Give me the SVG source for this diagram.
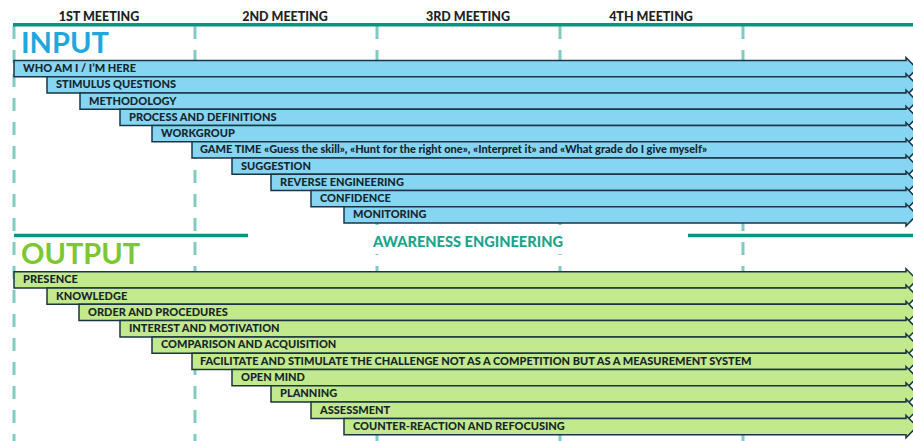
<svg xmlns="http://www.w3.org/2000/svg" width="913" height="441" viewBox="0 0 913 441">
  <style>
    .meet { font-family: Lato, "Liberation Sans", sans-serif; font-weight: 900; font-size: 12.5px; fill: #222; text-anchor: middle; }
    .title { font-family: Lato, "Liberation Sans", sans-serif; font-weight: 700; font-size: 29px; }
    .lbl { font-family: Lato, "Liberation Sans", sans-serif; font-weight: 900; font-size: 11px; fill: #17262e; }
    .in path { fill: #86d5f2; stroke: #1b3544; stroke-width: 1.5; stroke-linejoin: miter; }
    .out path { fill: #c2e98b; stroke: #1b3544; stroke-width: 1.5; stroke-linejoin: miter; }
    .dash { stroke: #80ccc4; stroke-width: 3; stroke-dasharray: 13 11; fill: none; }
    .rule { stroke: #00967f; stroke-width: 3.5; fill: none; }
  </style>

  <!-- meeting grid -->
  <g id="grid">
    <line class="dash" x1="14" y1="26" x2="14" y2="441"/>
    <line class="dash" x1="195" y1="26" x2="195" y2="441"/>
    <line class="dash" x1="377" y1="26" x2="377" y2="441"/>
    <line class="dash" x1="560" y1="26" x2="560" y2="441"/>
    <line class="dash" x1="743" y1="26" x2="743" y2="441"/>
    <line class="rule" x1="13" y1="24.7" x2="913" y2="24.7"/>
  </g>

  <g id="meetings">
    <text class="meet" x="99" y="21">1ST MEETING</text>
    <text class="meet" x="285" y="21">2ND MEETING</text>
    <text class="meet" x="468" y="21">3RD MEETING</text>
    <text class="meet" x="651" y="21">4TH MEETING</text>
  </g>

  <!-- section divider -->
  <g id="divider">
    <rect x="248" y="225" width="440" height="29" fill="#fff"/>
    <line class="rule" x1="14" y1="235.5" x2="248" y2="235.5"/>
    <line class="rule" x1="688" y1="235.5" x2="913" y2="235.5"/>
    <text x="468" y="246.5" text-anchor="middle" font-family="Lato, 'Liberation Sans', sans-serif" font-weight="900" font-size="14.6px" fill="#1aa58c">AWARENESS ENGINEERING</text>
  </g>

  <text id="input-title" class="title" x="21" y="53" fill="#1fa8de">INPUT</text>
  <text id="output-title" class="title" x="21" y="264" fill="#7cc832">OUTPUT</text>

  <!-- input arrows: each drawn over the previous one -->
  <g id="input" class="in">
    <g id="in1"><path d="M14,60.5 H906 V57.5 L917,68.6 L906,79.8 V76.8 H14 Z"/><text class="lbl" x="23" y="72">WHO AM I / I’M HERE</text></g>
    <g id="in2"><path d="M47,76.8 H906 V73.8 L917,84.9 L906,96 V93 H47 Z"/><text class="lbl" x="56" y="88.2">STIMULUS QUESTIONS</text></g>
    <g id="in3"><path d="M80,93 H906 V90 L917,101.1 L906,112.3 V109.3 H80 Z"/><text class="lbl" x="89" y="104.5">METHODOLOGY</text></g>
    <g id="in4"><path d="M120,109.3 H906 V106.3 L917,117.4 L906,128.5 V125.5 H120 Z"/><text class="lbl" x="129" y="120.7">PROCESS AND DEFINITIONS</text></g>
    <g id="in5"><path d="M152,125.5 H906 V122.5 L917,133.6 L906,144.8 V141.8 H152 Z"/><text class="lbl" x="161" y="137">WORKGROUP</text></g>
    <g id="in6"><path d="M192,141.8 H906 V138.8 L917,149.9 L906,161 V158 H192 Z"/><text class="lbl" x="200" y="153.2">GAME TIME «Guess the skill», «Hunt for the right one», «Interpret it» and «What grade do I give myself»</text></g>
    <g id="in7"><path d="M232,158 H906 V155 L917,166.1 L906,177.3 V174.3 H232 Z"/><text class="lbl" x="241" y="169.5">SUGGESTION</text></g>
    <g id="in8"><path d="M271,174.3 H906 V171.3 L917,182.4 L906,193.5 V190.5 H271 Z"/><text class="lbl" x="280" y="185.7">REVERSE ENGINEERING</text></g>
    <g id="in9"><path d="M311,190.5 H906 V187.5 L917,198.6 L906,209.8 V206.8 H311 Z"/><text class="lbl" x="320" y="202">CONFIDENCE</text></g>
    <g id="in10"><path d="M344,206.8 H906 V203.8 L917,214.9 L906,226 V223 H344 Z"/><text class="lbl" x="353" y="218.2">MONITORING</text></g>
  </g>

  <!-- output arrows -->
  <g id="output" class="out">
    <g id="out1"><path d="M14,271.7 H906 V268.7 L917,279.8 L906,291 V288 H14 Z"/><text class="lbl" x="23" y="283.2">PRESENCE</text></g>
    <g id="out2"><path d="M47,288 H906 V285 L917,296.1 L906,307.3 V304.3 H47 Z"/><text class="lbl" x="56" y="299.5">KNOWLEDGE</text></g>
    <g id="out3"><path d="M79,304.3 H906 V301.3 L917,312.4 L906,323.6 V320.6 H79 Z"/><text class="lbl" x="88" y="315.8">ORDER AND PROCEDURES</text></g>
    <g id="out4"><path d="M120,320.6 H906 V317.6 L917,328.7 L906,339.9 V336.9 H120 Z"/><text class="lbl" x="129" y="332.1">INTEREST AND MOTIVATION</text></g>
    <g id="out5"><path d="M152,336.9 H906 V333.9 L917,345 L906,356.2 V353.2 H152 Z"/><text class="lbl" x="161" y="348.4">COMPARISON AND ACQUISITION</text></g>
    <g id="out6"><path d="M192,353.2 H906 V350.2 L917,361.3 L906,372.5 V369.5 H192 Z"/><text class="lbl" x="200" y="364.7">FACILITATE AND STIMULATE THE CHALLENGE NOT AS A COMPETITION BUT AS A MEASUREMENT SYSTEM</text></g>
    <g id="out7"><path d="M232,369.5 H906 V366.5 L917,377.6 L906,388.8 V385.8 H232 Z"/><text class="lbl" x="241" y="381">OPEN MIND</text></g>
    <g id="out8"><path d="M271,385.8 H906 V382.8 L917,393.9 L906,405.1 V402.1 H271 Z"/><text class="lbl" x="280" y="397.3">PLANNING</text></g>
    <g id="out9"><path d="M311,402.1 H906 V399.1 L917,410.2 L906,421.4 V418.4 H311 Z"/><text class="lbl" x="320" y="413.6">ASSESSMENT</text></g>
    <g id="out10"><path d="M344,418.4 H906 V415.4 L917,426.5 L906,437.7 V434.7 H344 Z"/><text class="lbl" x="353" y="429.9">COUNTER-REACTION AND REFOCUSING</text></g>
  </g>
</svg>
